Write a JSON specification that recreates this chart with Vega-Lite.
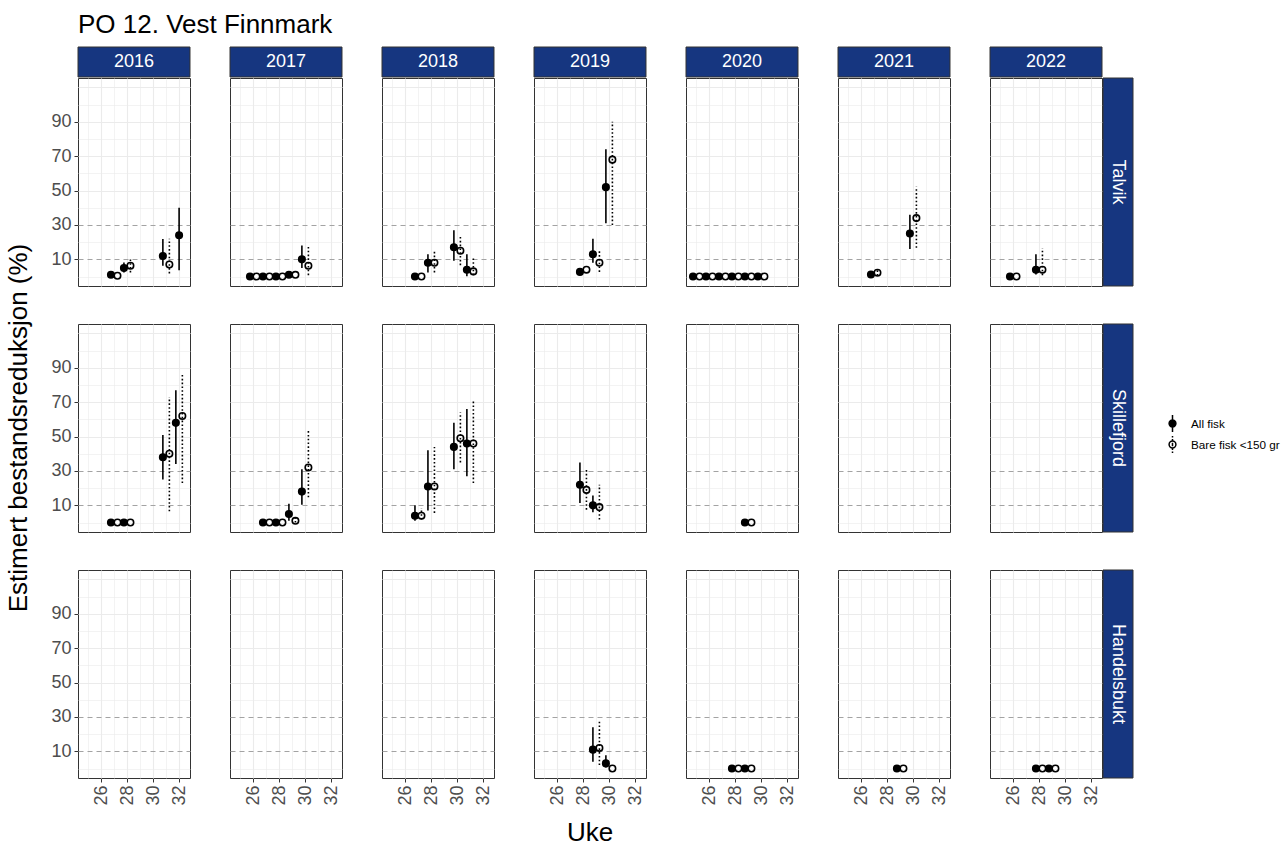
{
  "$schema": "https://vega.github.io/schema/vega-lite/v6.json",
  "background": "white",
  "padding": {"left": 5, "top": 11, "right": 5, "bottom": 2},
  "title": {"text": "PO 12. Vest Finnmark", "anchor": "start", "frame": "group", "fontSize": 26, "fontWeight": "normal", "color": "black", "offset": 9},
  "config": {
    "font": "Liberation Sans",
    "view": {"stroke": "#333333", "strokeWidth": 1},
    "axis": {"domain": false, "grid": true, "tickColor": "#333333", "tickSize": 4, "tickWidth": 1, "labelFontSize": 18, "labelColor": "#4D4D4D", "labelFont": "Liberation Sans"},
    "header": {"labelFont": "Liberation Sans", "titleFont": "Liberation Sans"}
  },
  "resolve": {"scale": {"x": "independent", "y": "independent"}},
  "spacing": -1,
  "datasets": {
    "years": [{"year": "2016"}, {"year": "2017"}, {"year": "2018"}, {"year": "2019"}, {"year": "2020"}, {"year": "2021"}, {"year": "2022"}],
    "sites": [{"site": "Talvik"}, {"site": "Skillefjord"}, {"site": "Handelsbukt"}],
    "d": [
      {"site": "Talvik", "year": 2016, "week": 27, "series": "All fisk", "est": 1, "lo": 0, "hi": 2},
      {"site": "Talvik", "year": 2016, "week": 27, "series": "Bare fisk <150 gr", "est": 0.5},
      {"site": "Talvik", "year": 2016, "week": 28, "series": "All fisk", "est": 5, "lo": 2.4, "hi": 8.2},
      {"site": "Talvik", "year": 2016, "week": 28, "series": "Bare fisk <150 gr", "est": 6.3, "lo": 2.4, "hi": 10},
      {"site": "Talvik", "year": 2016, "week": 31, "series": "All fisk", "est": 12, "lo": 6.3, "hi": 21.8},
      {"site": "Talvik", "year": 2016, "week": 31, "series": "Bare fisk <150 gr", "est": 7, "lo": 1.8, "hi": 22},
      {"site": "Talvik", "year": 2016, "week": 32, "series": "All fisk", "est": 24, "lo": 3.7, "hi": 40},

      {"site": "Talvik", "year": 2017, "week": 26, "series": "All fisk", "est": 0},
      {"site": "Talvik", "year": 2017, "week": 26, "series": "Bare fisk <150 gr", "est": 0},
      {"site": "Talvik", "year": 2017, "week": 27, "series": "All fisk", "est": 0},
      {"site": "Talvik", "year": 2017, "week": 27, "series": "Bare fisk <150 gr", "est": 0},
      {"site": "Talvik", "year": 2017, "week": 28, "series": "All fisk", "est": 0},
      {"site": "Talvik", "year": 2017, "week": 28, "series": "Bare fisk <150 gr", "est": 0},
      {"site": "Talvik", "year": 2017, "week": 29, "series": "All fisk", "est": 1},
      {"site": "Talvik", "year": 2017, "week": 29, "series": "Bare fisk <150 gr", "est": 1},
      {"site": "Talvik", "year": 2017, "week": 30, "series": "All fisk", "est": 10, "lo": 5, "hi": 18},
      {"site": "Talvik", "year": 2017, "week": 30, "series": "Bare fisk <150 gr", "est": 6.3, "lo": 0.8, "hi": 18},

      {"site": "Talvik", "year": 2018, "week": 27, "series": "All fisk", "est": 0},
      {"site": "Talvik", "year": 2018, "week": 27, "series": "Bare fisk <150 gr", "est": 0},
      {"site": "Talvik", "year": 2018, "week": 28, "series": "All fisk", "est": 8, "lo": 2.4, "hi": 12.9},
      {"site": "Talvik", "year": 2018, "week": 28, "series": "Bare fisk <150 gr", "est": 8, "lo": 2.4, "hi": 15.4},
      {"site": "Talvik", "year": 2018, "week": 30, "series": "All fisk", "est": 17, "lo": 9.2, "hi": 27},
      {"site": "Talvik", "year": 2018, "week": 30, "series": "Bare fisk <150 gr", "est": 15, "lo": 6.6, "hi": 24},
      {"site": "Talvik", "year": 2018, "week": 31, "series": "All fisk", "est": 4, "lo": 0.2, "hi": 13},
      {"site": "Talvik", "year": 2018, "week": 31, "series": "Bare fisk <150 gr", "est": 3, "lo": 0.8, "hi": 10.5},

      {"site": "Talvik", "year": 2019, "week": 28, "series": "All fisk", "est": 2.7},
      {"site": "Talvik", "year": 2019, "week": 28, "series": "Bare fisk <150 gr", "est": 4},
      {"site": "Talvik", "year": 2019, "week": 29, "series": "All fisk", "est": 13, "lo": 8, "hi": 22},
      {"site": "Talvik", "year": 2019, "week": 29, "series": "Bare fisk <150 gr", "est": 8, "lo": 2.7, "hi": 16},
      {"site": "Talvik", "year": 2019, "week": 30, "series": "All fisk", "est": 52, "lo": 31, "hi": 74},
      {"site": "Talvik", "year": 2019, "week": 30, "series": "Bare fisk <150 gr", "est": 68, "lo": 30, "hi": 90},

      {"site": "Talvik", "year": 2020, "week": 25, "series": "All fisk", "est": 0},
      {"site": "Talvik", "year": 2020, "week": 25, "series": "Bare fisk <150 gr", "est": 0},
      {"site": "Talvik", "year": 2020, "week": 26, "series": "All fisk", "est": 0},
      {"site": "Talvik", "year": 2020, "week": 26, "series": "Bare fisk <150 gr", "est": 0},
      {"site": "Talvik", "year": 2020, "week": 27, "series": "All fisk", "est": 0},
      {"site": "Talvik", "year": 2020, "week": 27, "series": "Bare fisk <150 gr", "est": 0},
      {"site": "Talvik", "year": 2020, "week": 28, "series": "All fisk", "est": 0},
      {"site": "Talvik", "year": 2020, "week": 28, "series": "Bare fisk <150 gr", "est": 0},
      {"site": "Talvik", "year": 2020, "week": 29, "series": "All fisk", "est": 0},
      {"site": "Talvik", "year": 2020, "week": 29, "series": "Bare fisk <150 gr", "est": 0},
      {"site": "Talvik", "year": 2020, "week": 30, "series": "All fisk", "est": 0},
      {"site": "Talvik", "year": 2020, "week": 30, "series": "Bare fisk <150 gr", "est": 0},

      {"site": "Talvik", "year": 2021, "week": 27, "series": "All fisk", "est": 1.2},
      {"site": "Talvik", "year": 2021, "week": 27, "series": "Bare fisk <150 gr", "est": 2.2, "lo": 0.5, "hi": 4},
      {"site": "Talvik", "year": 2021, "week": 30, "series": "All fisk", "est": 25, "lo": 16, "hi": 36},
      {"site": "Talvik", "year": 2021, "week": 30, "series": "Bare fisk <150 gr", "est": 34, "lo": 16.7, "hi": 52.3},

      {"site": "Talvik", "year": 2022, "week": 26, "series": "All fisk", "est": 0},
      {"site": "Talvik", "year": 2022, "week": 26, "series": "Bare fisk <150 gr", "est": 0},
      {"site": "Talvik", "year": 2022, "week": 28, "series": "All fisk", "est": 4, "lo": 1.2, "hi": 12.9},
      {"site": "Talvik", "year": 2022, "week": 28, "series": "Bare fisk <150 gr", "est": 4, "lo": 0.8, "hi": 16.4},

      {"site": "Skillefjord", "year": 2016, "week": 27, "series": "All fisk", "est": 0},
      {"site": "Skillefjord", "year": 2016, "week": 27, "series": "Bare fisk <150 gr", "est": 0},
      {"site": "Skillefjord", "year": 2016, "week": 28, "series": "All fisk", "est": 0},
      {"site": "Skillefjord", "year": 2016, "week": 28, "series": "Bare fisk <150 gr", "est": 0},
      {"site": "Skillefjord", "year": 2016, "week": 31, "series": "All fisk", "est": 38, "lo": 25, "hi": 51},
      {"site": "Skillefjord", "year": 2016, "week": 31, "series": "Bare fisk <150 gr", "est": 40, "lo": 6.5, "hi": 73},
      {"site": "Skillefjord", "year": 2016, "week": 32, "series": "All fisk", "est": 58, "lo": 34, "hi": 77},
      {"site": "Skillefjord", "year": 2016, "week": 32, "series": "Bare fisk <150 gr", "est": 62, "lo": 23, "hi": 86},

      {"site": "Skillefjord", "year": 2017, "week": 27, "series": "All fisk", "est": 0},
      {"site": "Skillefjord", "year": 2017, "week": 27, "series": "Bare fisk <150 gr", "est": 0},
      {"site": "Skillefjord", "year": 2017, "week": 28, "series": "All fisk", "est": 0},
      {"site": "Skillefjord", "year": 2017, "week": 28, "series": "Bare fisk <150 gr", "est": 0},
      {"site": "Skillefjord", "year": 2017, "week": 29, "series": "All fisk", "est": 5, "lo": 1, "hi": 11},
      {"site": "Skillefjord", "year": 2017, "week": 29, "series": "Bare fisk <150 gr", "est": 1, "lo": 0, "hi": 3},
      {"site": "Skillefjord", "year": 2017, "week": 30, "series": "All fisk", "est": 18, "lo": 10.4, "hi": 31},
      {"site": "Skillefjord", "year": 2017, "week": 30, "series": "Bare fisk <150 gr", "est": 32, "lo": 14.7, "hi": 54},

      {"site": "Skillefjord", "year": 2018, "week": 27, "series": "All fisk", "est": 4, "lo": 1, "hi": 10},
      {"site": "Skillefjord", "year": 2018, "week": 27, "series": "Bare fisk <150 gr", "est": 4, "lo": 1.7, "hi": 8.5},
      {"site": "Skillefjord", "year": 2018, "week": 28, "series": "All fisk", "est": 21, "lo": 7, "hi": 42},
      {"site": "Skillefjord", "year": 2018, "week": 28, "series": "Bare fisk <150 gr", "est": 21, "lo": 5.6, "hi": 44},
      {"site": "Skillefjord", "year": 2018, "week": 30, "series": "All fisk", "est": 44, "lo": 31, "hi": 58},
      {"site": "Skillefjord", "year": 2018, "week": 30, "series": "Bare fisk <150 gr", "est": 49, "lo": 35, "hi": 64},
      {"site": "Skillefjord", "year": 2018, "week": 31, "series": "All fisk", "est": 46, "lo": 27, "hi": 66},
      {"site": "Skillefjord", "year": 2018, "week": 31, "series": "Bare fisk <150 gr", "est": 46, "lo": 23, "hi": 71},

      {"site": "Skillefjord", "year": 2019, "week": 28, "series": "All fisk", "est": 22, "lo": 11.4, "hi": 35},
      {"site": "Skillefjord", "year": 2019, "week": 28, "series": "Bare fisk <150 gr", "est": 19, "lo": 7.5, "hi": 31},
      {"site": "Skillefjord", "year": 2019, "week": 29, "series": "All fisk", "est": 10, "lo": 6, "hi": 15.7},
      {"site": "Skillefjord", "year": 2019, "week": 29, "series": "Bare fisk <150 gr", "est": 9, "lo": 1.7, "hi": 22},

      {"site": "Skillefjord", "year": 2020, "week": 29, "series": "All fisk", "est": 0},
      {"site": "Skillefjord", "year": 2020, "week": 29, "series": "Bare fisk <150 gr", "est": 0},

      {"site": "Skillefjord", "year": 2021},
      {"site": "Skillefjord", "year": 2022},
      {"site": "Handelsbukt", "year": 2016},
      {"site": "Handelsbukt", "year": 2017},
      {"site": "Handelsbukt", "year": 2018},

      {"site": "Handelsbukt", "year": 2019, "week": 29, "series": "All fisk", "est": 11, "lo": 4, "hi": 24},
      {"site": "Handelsbukt", "year": 2019, "week": 29, "series": "Bare fisk <150 gr", "est": 12, "lo": 2, "hi": 28.4},
      {"site": "Handelsbukt", "year": 2019, "week": 30, "series": "All fisk", "est": 3, "lo": 0.6, "hi": 7.8},
      {"site": "Handelsbukt", "year": 2019, "week": 30, "series": "Bare fisk <150 gr", "est": 0},

      {"site": "Handelsbukt", "year": 2020, "week": 28, "series": "All fisk", "est": 0},
      {"site": "Handelsbukt", "year": 2020, "week": 28, "series": "Bare fisk <150 gr", "est": 0},
      {"site": "Handelsbukt", "year": 2020, "week": 29, "series": "All fisk", "est": 0},
      {"site": "Handelsbukt", "year": 2020, "week": 29, "series": "Bare fisk <150 gr", "est": 0},

      {"site": "Handelsbukt", "year": 2021, "week": 29, "series": "All fisk", "est": 0},
      {"site": "Handelsbukt", "year": 2021, "week": 29, "series": "Bare fisk <150 gr", "est": 0},

      {"site": "Handelsbukt", "year": 2022, "week": 28, "series": "All fisk", "est": 0},
      {"site": "Handelsbukt", "year": 2022, "week": 28, "series": "Bare fisk <150 gr", "est": 0},
      {"site": "Handelsbukt", "year": 2022, "week": 29, "series": "All fisk", "est": 0},
      {"site": "Handelsbukt", "year": 2022, "week": 29, "series": "Bare fisk <150 gr", "est": 0}
    ]
  },
  "vconcat": [
    {
      "data": {"name": "years"},
      "width": 1024,
      "height": 30,
      "view": {"stroke": null},
      "layer": [
        {
          "mark": {"type": "rect", "fill": "#163680", "stroke": "#333333", "strokeWidth": 1},
          "encoding": {"x": {"field": "year", "type": "nominal", "axis": null, "scale": {"paddingInner": 0.26316, "paddingOuter": 0}}}
        },
        {
          "mark": {"type": "text", "color": "white", "fontSize": 18},
          "encoding": {"x": {"field": "year", "type": "nominal", "axis": null}, "text": {"field": "year"}}
        }
      ]
    },
    {
      "hconcat": [
        {
          "data": {"name": "d"},
          "transform": [{"joinaggregate": [{"op": "count", "as": "n"}], "groupby": ["site", "year", "week"]}],
          "facet": {
            "row": {"field": "site", "type": "nominal", "sort": "descending",
              "header": {"labels": false, "title": "Estimert bestandsreduksjon (%)", "titleFontSize": 26, "titleFontWeight": "normal", "titleColor": "black", "titlePadding": 8}},
            "column": {"field": "year", "type": "ordinal", "sort": "ascending",
              "header": {"labels": false, "title": "Uke", "titleOrient": "bottom", "titleFontSize": 26, "titleFontWeight": "normal", "titleColor": "black", "titlePadding": 4}}
          },
          "spacing": {"row": 38, "column": 40},
          "bounds": "flush",
          "spec": {
            "width": 112,
            "height": 208,
            "encoding": {
              "x": {"field": "week", "type": "quantitative",
                "scale": {"domain": [24.21, 32.84], "nice": false, "zero": false},
                "axis": {"values": [25, 26, 27, 28, 29, 30, 31, 32], "labelExpr": "datum.value % 2 === 0 ? datum.label : ''", "labelAngle": 270, "labelPadding": 3, "title": null,
                  "gridColor": "#EBEBEB",
                  "gridWidth": {"condition": {"test": "datum.value % 2 === 0", "value": 1.1}, "value": 0.6},
                  "tickOpacity": {"condition": {"test": "datum.value % 2 === 0", "value": 1}, "value": 0}}},
              "y": {"field": "est", "type": "quantitative",
                "scale": {"domain": [-5.5, 115.5], "nice": false, "zero": false},
                "axis": {"values": [0, 10, 20, 30, 40, 50, 60, 70, 80, 90, 100, 110], "labelExpr": "datum.value % 20 === 10 && datum.value < 100 ? datum.label : ''", "labelPadding": 3, "title": null,
                  "gridColor": {"condition": {"test": "datum.value === 10 || datum.value === 30", "value": "#A3A3A3"}, "value": "#EBEBEB"},
                  "gridDash": {"condition": {"test": "datum.value === 10 || datum.value === 30", "value": [5, 4]}, "value": []},
                  "gridWidth": {"condition": {"test": "datum.value % 20 === 10", "value": 1.1}, "value": 0.6},
                  "tickOpacity": {"condition": {"test": "datum.value % 20 === 10 && datum.value < 100", "value": 1}, "value": 0}}},
              "fill": {"field": "series", "type": "nominal",
                "scale": {"domain": ["All fisk", "Bare fisk <150 gr"], "range": ["black", "transparent"]},
                "legend": {"title": null, "orient": "none", "legendX": 1085, "legendY": 367, "labelFontSize": 11.7, "labelColor": "black", "labelFont": "Liberation Sans", "labelLimit": 400, "symbolSize": 289, "symbolStrokeWidth": 1.5, "labelOffset": 9, "rowPadding": -7, "padding": 0}}
            },
            "layer": [
              {
                "transform": [{"filter": "datum.n === 2 && datum.series === 'All fisk'"}],
                "mark": {"type": "rule", "xOffset": -3.25, "strokeWidth": 1.6, "color": "black"},
                "encoding": {"y": {"field": "lo", "type": "quantitative", "title": null}, "y2": {"field": "hi"}}
              },
              {
                "transform": [{"filter": "datum.n === 2 && datum.series !== 'All fisk'"}],
                "mark": {"type": "rule", "xOffset": 3.25, "strokeWidth": 1.6, "color": "black", "strokeDash": [1.6, 2.2]},
                "encoding": {"y": {"field": "lo", "type": "quantitative", "title": null}, "y2": {"field": "hi"}}
              },
              {
                "transform": [{"filter": "datum.n === 1"}],
                "mark": {"type": "rule", "strokeWidth": 1.6, "color": "black"},
                "encoding": {"y": {"field": "lo", "type": "quantitative", "title": null}, "y2": {"field": "hi"}}
              },
              {
                "transform": [{"filter": "datum.n === 2 && datum.series === 'All fisk'"}],
                "mark": {"type": "point", "size": 42, "stroke": "black", "strokeWidth": 1.6, "opacity": 1, "xOffset": -3.25}
              },
              {
                "transform": [{"filter": "datum.n === 2 && datum.series !== 'All fisk'"}],
                "mark": {"type": "point", "size": 42, "stroke": "black", "strokeWidth": 1.6, "opacity": 1, "xOffset": 3.25}
              },
              {
                "transform": [{"filter": "datum.n === 1"}],
                "mark": {"type": "point", "size": 42, "stroke": "black", "strokeWidth": 1.6, "opacity": 1}
              },
              {
                "transform": [{"filter": "false"}],
                "mark": {"type": "point", "size": 42, "stroke": "black", "strokeWidth": 1.6, "opacity": 1},
                "encoding": {
                  "shape": {"field": "series", "type": "nominal",
                    "scale": {"domain": ["All fisk", "Bare fisk <150 gr"], "range": ["M0,-1L0,1M-0.4,0A0.4,0.4,0,1,1,0.4,0A0.4,0.4,0,1,1,-0.4,0Z", "M0,-1L0,-0.83M0,-0.66L0,-0.49M0,-0.2L0,0.2M0,0.49L0,0.66M0,0.83L0,1M-0.4,0A0.4,0.4,0,1,1,0.4,0A0.4,0.4,0,1,1,-0.4,0Z"]},
                    "legend": {"title": null, "orient": "none", "legendX": 1085, "legendY": 367, "labelFontSize": 11.7, "labelColor": "black", "labelFont": "Liberation Sans", "labelLimit": 400, "symbolSize": 289, "symbolStrokeWidth": 1.5, "labelOffset": 9, "rowPadding": -7, "padding": 0}}
                }
              }
            ]
          }
        },
        {
          "data": {"name": "sites"},
          "width": 30,
          "height": 700,
          "view": {"stroke": null},
          "layer": [
            {
              "mark": {"type": "rect", "fill": "#163680", "stroke": "#333333", "strokeWidth": 1},
              "encoding": {"y": {"field": "site", "type": "nominal", "sort": "descending", "axis": null, "scale": {"paddingInner": 0.15447, "paddingOuter": 0}}}
            },
            {
              "mark": {"type": "text", "color": "white", "fontSize": 18, "angle": 90},
              "encoding": {"y": {"field": "site", "type": "nominal", "sort": "descending", "axis": null}, "text": {"field": "site"}}
            }
          ]
        }
      ],
      "spacing": -1,
      "resolve": {"scale": {"x": "independent", "y": "independent"}}
    }
  ]
}
